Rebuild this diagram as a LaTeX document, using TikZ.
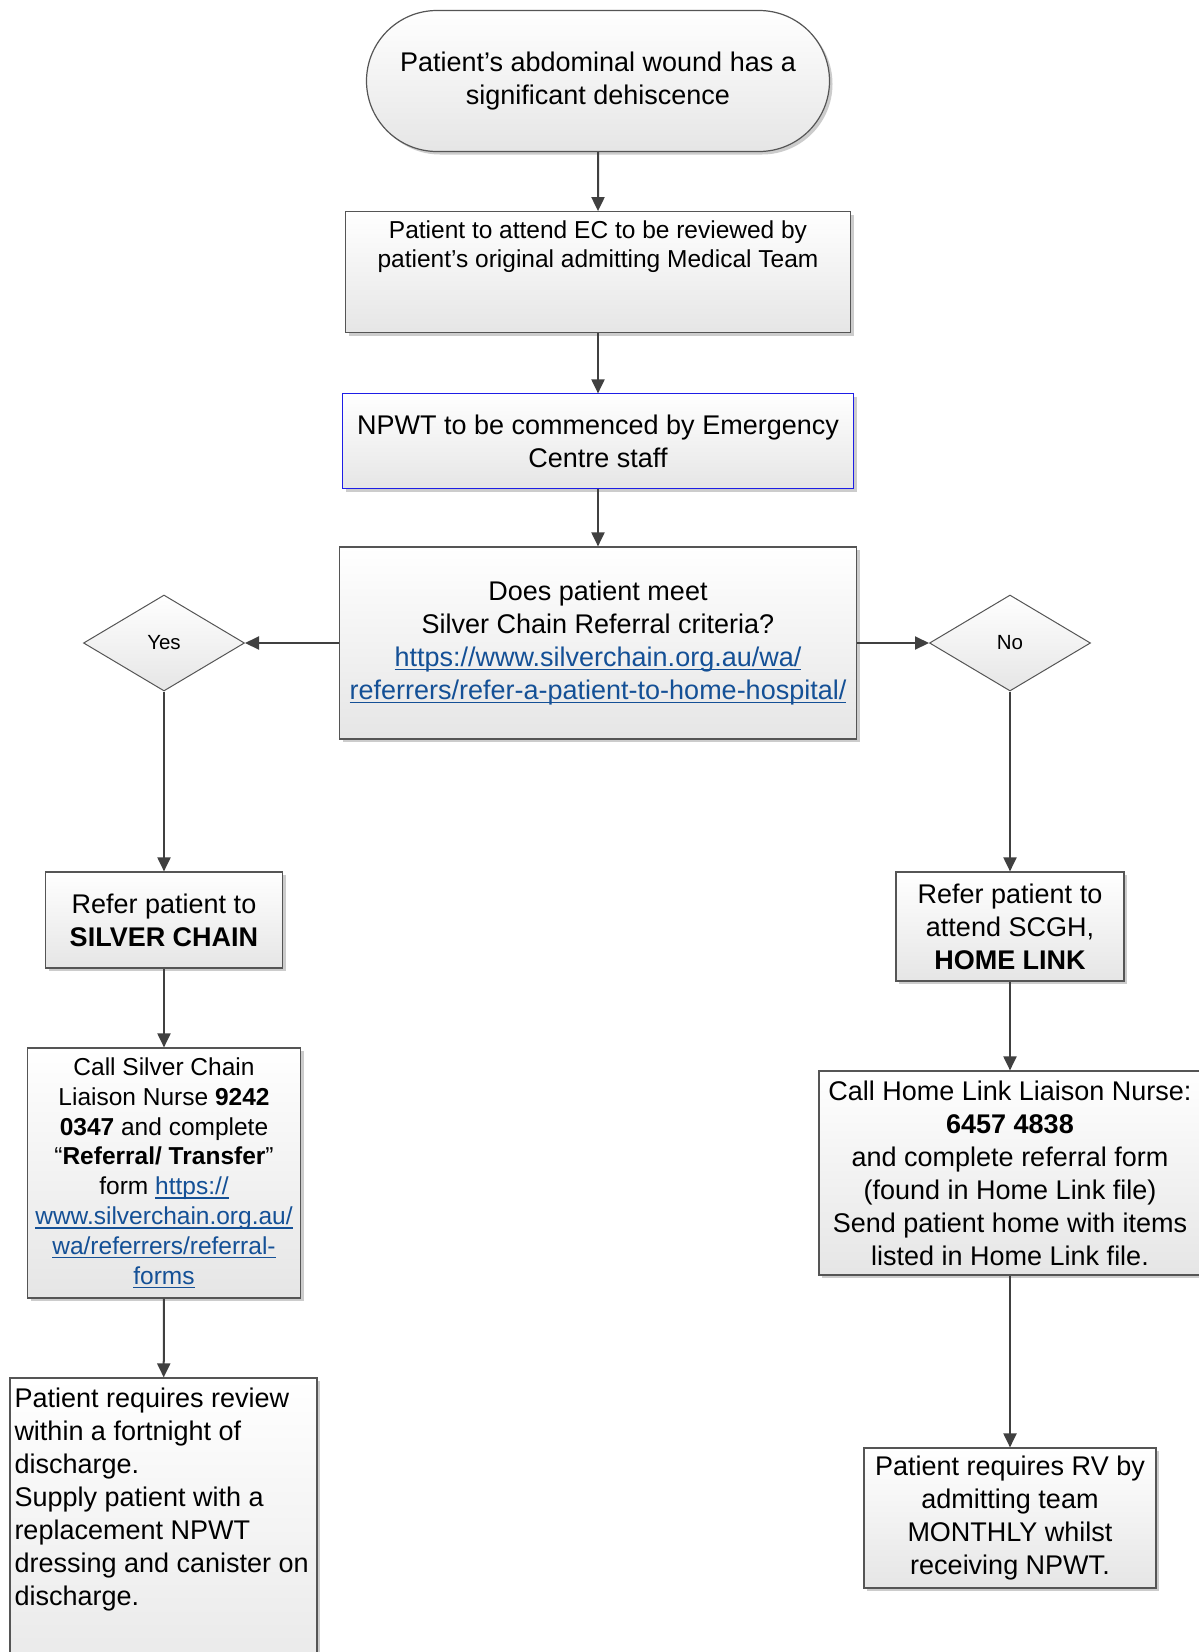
\documentclass[tikz,border=0pt]{standalone}
\usepackage{fontspec}
\setmainfont{Liberation Sans}
\usetikzlibrary{graphs, shapes.geometric, shapes.misc, shadows, arrows.meta}
\definecolor{linkblue}{RGB}{20,80,150}
\definecolor{linegray}{RGB}{64,64,64}
\definecolor{edgegray}{RGB}{85,85,85}
\definecolor{frameblue}{RGB}{30,30,230}
\newcommand{\weblink}[1]{\textcolor{linkblue}{\sbox0{#1}\rlap{\rule[-4pt]{\wd0}{1.6pt}}\usebox0}}

\begin{document}
\begin{tikzpicture}[x=1pt, y=-1pt, new set=import nodes, >={Triangle[width=13pt,length=14pt]},
process/.style = {rectangle, draw=edgegray, line width=1.2pt, inner sep=0pt, align=center,
                  top color=white, bottom color=black!10,
                  drop shadow={shadow xshift=3pt, shadow yshift=-3pt, fill=black!20, opacity=1},
                  font=\fontsize{27}{33}\selectfont},
startstop/.style = {process, rounded rectangle},
branch/.style = {diamond, draw=edgegray, line width=1pt, inner sep=0pt,
                 top color=white, bottom color=black!10,
                 minimum width=161pt, minimum height=96pt, font=\fontsize{20.5}{24}\selectfont},
conn/.style = {draw=linegray, line width=2pt}]
\useasboundingbox (0,0) rectangle (1199,1652);
\clip (0,0) rectangle (1199,1652);
\fill[white] (0,0) rectangle (1199,1652);
\begin{scope}[nodes={set=import nodes}] % make all nodes part of this set
\node[startstop, minimum width=463pt, minimum height=141pt] (wound) at (598,81) {Patient’s abdominal wound has a\\significant dehiscence};
\node[process, font=\fontsize{24.5}{29.5}\selectfont, minimum width=505pt, minimum height=121pt] (review) at (598,272.2)
  {\parbox[c][103pt][t]{495pt}{\centering Patient to attend EC to be reviewed by\\patient’s original admitting Medical Team}};
\node[process, draw=frameblue, line width=1pt, minimum width=511pt, minimum height=95pt] (npwt) at (598,441.4) {NPWT to be commenced by Emergency\\Centre staff};
\node[process, minimum width=517pt, minimum height=192pt] (criteria) at (598,643)
  {Does patient meet\\Silver Chain Referral criteria?\\\weblink{https://www.silverchain.org.au/wa/}\\\weblink{referrers/refer-a-patient-to-home-hospital/}};
\node[branch] (yes) at (164,643) {Yes};
\node[branch] (no) at (1010,643) {No};
\node[process, minimum width=237pt, minimum height=96pt] (silver) at (164,920) {Refer patient to\\\textbf{SILVER CHAIN}};
\node[process, font=\fontsize{24.5}{29.8}\selectfont, minimum width=273pt, minimum height=250pt] (callsilver) at (164,1173)
  {Call Silver Chain\\Liaison Nurse \textbf{9242}\\\textbf{0347} and complete\\“\textbf{Referral/ Transfer}”\\form \weblink{https://}\\\weblink{www.silverchain.org.au/}\\\weblink{wa/referrers/referral-}\\\weblink{forms}};
\node[process, minimum width=307pt, minimum height=340pt] (fortnight) at (163.5,1548)
  {\parbox[c][320pt][t]{298pt}{\raggedright Patient requires review\\within a fortnight of\\discharge.\\Supply patient with a\\replacement NPWT\\dressing and canister on\\discharge.}};
\node[process, minimum width=228pt, minimum height=109pt] (homelink) at (1010,926.5) {Refer patient to\\attend SCGH,\\\textbf{HOME LINK}};
\node[process, minimum width=382pt, minimum height=204pt] (callhomelink) at (1010,1173)
  {Call Home Link Liaison Nurse:\\\textbf{6457 4838}\\and complete referral form\\(found in Home Link file)\\Send patient home with items\\listed in Home Link file.};
\node[process, minimum width=292pt, minimum height=140pt] (monthly) at (1010,1518) {Patient requires RV by\\admitting team\\MONTHLY whilst\\receiving NPWT.};
\end{scope}
\graph[edges={conn}] {
(import nodes);
% "import" the nodes
wound -> review -> npwt -> criteria -> {yes, no},
yes -> silver -> callsilver -> fortnight,
no -> homelink -> callhomelink -> monthly
};
\end{tikzpicture}
\end{document}
